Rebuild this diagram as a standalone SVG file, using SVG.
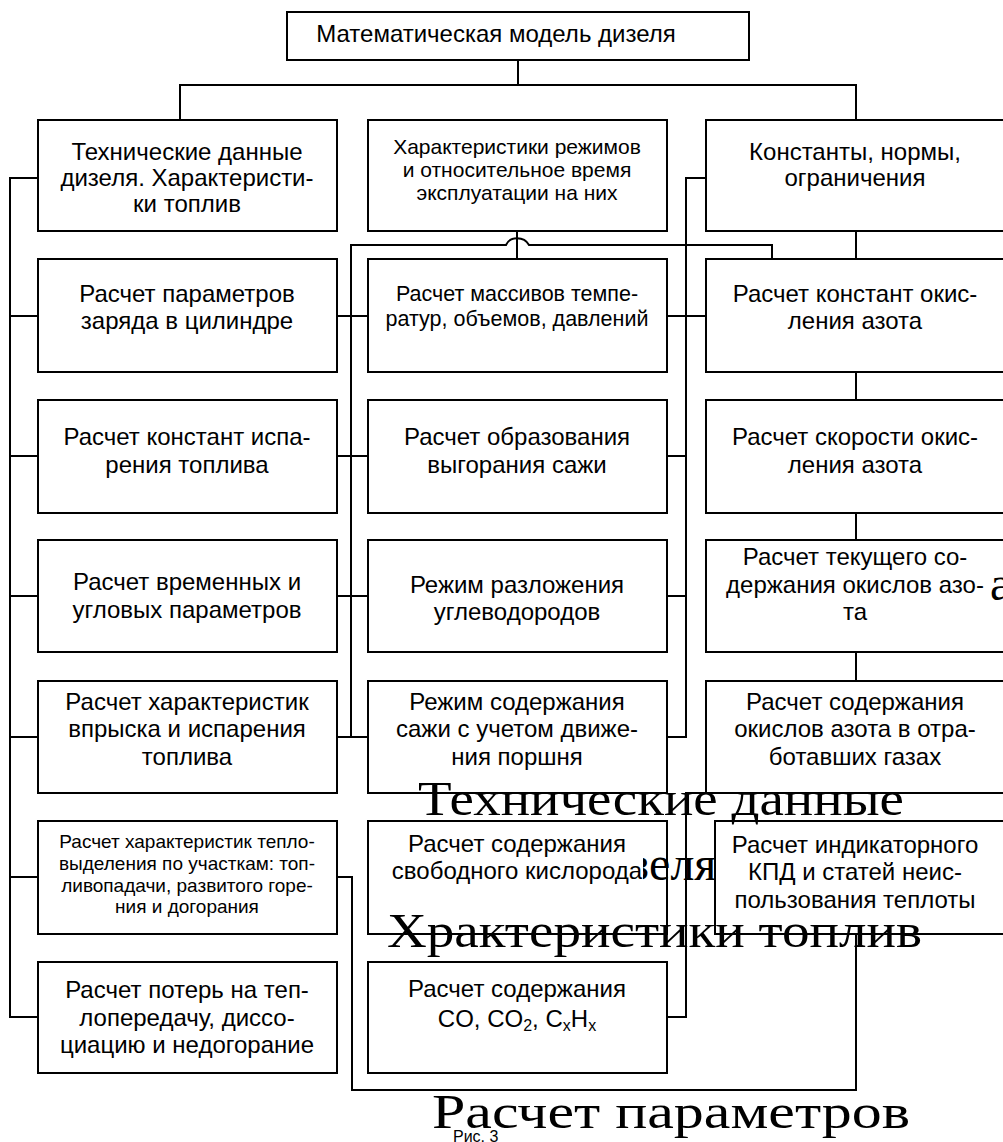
<svg xmlns="http://www.w3.org/2000/svg" width="1003" height="1142" viewBox="0 0 1003 1142">
<defs>
<style>
.box{fill:#fff;stroke:#000;stroke-width:2}
.ln{fill:none;stroke:#000;stroke-width:2}
.t{font-family:"Liberation Sans",Arial,sans-serif;font-size:24px;text-anchor:middle;fill:#000}
.s{font-size:21px}
.m{font-size:21.5px}
.xs{font-size:19px}
.big{font-family:"Liberation Serif","Times New Roman",serif;font-size:48px;fill:#000}
</style>
<clipPath id="clipZ"><rect x="643" y="830" width="72" height="70"/></clipPath>
</defs>
<rect width="1003" height="1142" fill="#fff"/>

<g id="connectors">
<path class="ln" d="M518,60 V85 M180,120 V85 H856 V120"/>
<path class="ln" d="M38,178 H10 V1017 H38 M10,316 H38 M10,456 H38 M10,596 H38 M10,737 H38 M10,877 H38"/>
<path class="ln" d="M351,737 V245 H506 C510,236 524,236 529,245 H772 V259"/>
<path class="ln" d="M337,316 H368 M337,456 H368 M337,596 H368 M337,737 H368"/>
<path class="ln" d="M517,231 V259"/>
<path class="ln" d="M706,178 H686 V737 H667 M667,316 H706 M667,456 H686 M667,596 H686"/>
<path class="ln" d="M856,231 V260 M856,372 V400 M856,513 V540 M856,652 V681"/>
<path class="ln" d="M667,1017 H686 V793 H1005"/>
<path class="ln" d="M337,877 H352 V1090 H856 V934"/>
</g>

<g id="n0"><rect class="box" x="287" y="12" width="462" height="48"/><text class="t" x="496" y="42">Математическая модель дизеля</text></g>

<g id="n1"><rect class="box" x="38" y="120" width="299" height="111"/><text class="t" x="187" y="160">Технические данные<tspan x="187" dy="26">дизеля. Характеристи-</tspan><tspan x="187" dy="26">ки топлив</tspan></text></g>
<g id="n2"><rect class="box" x="368" y="120" width="299" height="111"/><text class="t s" x="517" y="154">Характеристики режимов<tspan x="517" dy="23">и относительное время</tspan><tspan x="517" dy="23">эксплуатации на них</tspan></text></g>
<g id="n3"><rect class="box" x="706" y="120" width="299" height="111"/><text class="t" x="855" y="160">Константы, нормы,<tspan x="855" dy="26">ограничения</tspan></text></g>

<g id="n4"><rect class="box" x="38" y="259" width="299" height="113"/><text class="t" x="187" y="302">Расчет параметров<tspan x="187" dy="27">заряда в цилиндре</tspan></text></g>
<g id="n5"><rect class="box" x="368" y="259" width="299" height="113"/><text class="t m" x="517" y="301">Расчет массивов темпе-<tspan x="517" dy="25">ратур, объемов, давлений</tspan></text></g>
<g id="n6"><rect class="box" x="706" y="259" width="299" height="113"/><text class="t" x="855" y="302">Расчет констант окис-<tspan x="855" dy="27">ления азота</tspan></text></g>

<g id="n7"><rect class="box" x="38" y="400" width="299" height="113"/><text class="t" x="187" y="445">Расчет констант испа-<tspan x="187" dy="28">рения топлива</tspan></text></g>
<g id="n8"><rect class="box" x="368" y="400" width="299" height="113"/><text class="t" x="517" y="445">Расчет образования<tspan x="517" dy="28">выгорания сажи</tspan></text></g>
<g id="n9"><rect class="box" x="706" y="400" width="299" height="113"/><text class="t" x="855" y="445">Расчет скорости окис-<tspan x="855" dy="28">ления азота</tspan></text></g>

<g id="n10"><rect class="box" x="38" y="540" width="299" height="112"/><text class="t" x="187" y="590">Расчет временных и<tspan x="187" dy="28">угловых параметров</tspan></text></g>
<g id="n11"><rect class="box" x="368" y="540" width="299" height="112"/><text class="t" x="517" y="593">Режим разложения<tspan x="517" dy="27">углеводородов</tspan></text></g>
<g id="n12"><rect class="box" x="706" y="540" width="299" height="112"/><text class="t" x="855" y="565">Расчет текущего со-<tspan x="855" dy="28">держания окислов азо-</tspan><tspan x="855" dy="27">та</tspan></text></g>

<g id="n13"><rect class="box" x="38" y="681" width="299" height="112"/><text class="t" x="187" y="710">Расчет характеристик<tspan x="187" dy="27">впрыска и испарения</tspan><tspan x="187" dy="28">топлива</tspan></text></g>
<g id="n14"><rect class="box" x="368" y="681" width="299" height="112"/><text class="t" x="517" y="710">Режим содержания<tspan x="517" dy="27">сажи с учетом движе-</tspan><tspan x="517" dy="28">ния поршня</tspan></text></g>
<g id="n15"><rect class="box" x="706" y="681" width="299" height="112"/><text class="t" x="855" y="710">Расчет содержания<tspan x="855" dy="27">окислов азота в отра-</tspan><tspan x="855" dy="28">ботавших газах</tspan></text></g>

<g id="n16"><rect class="box" x="38" y="821" width="299" height="113"/><text class="t xs" x="187" y="848">Расчет характеристик тепло-<tspan x="187" dy="22">выделения по участкам: топ-</tspan><tspan x="187" dy="22">ливопадачи, развитого горе-</tspan><tspan x="187" dy="21">ния и догорания</tspan></text></g>
<g id="n17"><rect class="box" x="368" y="821" width="299" height="113"/><text class="t" x="517" y="852">Расчет содержания<tspan x="517" dy="27">свободного кислорода</tspan></text></g>
<g id="n18"><rect class="box" x="715" y="821" width="290" height="113"/><text class="t" x="855" y="853">Расчет индикаторного<tspan x="855" dy="27">КПД и статей неис-</tspan><tspan x="855" dy="28">пользования теплоты</tspan></text></g>

<g id="n19"><rect class="box" x="38" y="962" width="299" height="111"/><text class="t" x="187" y="998">Расчет потерь на теп-<tspan x="187" dy="28">лопередачу, диссо-</tspan><tspan x="187" dy="27">циацию и недогорание</tspan></text></g>
<g id="n20"><rect class="box" x="368" y="962" width="299" height="111"/><text class="t" x="517" y="997">Расчет содержания<tspan x="517" dy="30">CO, CO<tspan font-size="16" dy="4">2</tspan><tspan dy="-4">, C</tspan><tspan font-size="16" dy="4">x</tspan><tspan dy="-4">H</tspan><tspan font-size="16" dy="4">x</tspan></tspan></text></g>

<g id="stray-text">
<text class="big" x="418" y="815" textLength="486" lengthAdjust="spacingAndGlyphs">Технические данные</text>
<text class="big" x="580" y="880" clip-path="url(#clipZ)">дизеля</text>
<text class="big" x="387" y="947" textLength="535" lengthAdjust="spacingAndGlyphs">Храктеристики топлив</text>
<text class="big" x="432" y="1128" textLength="478" lengthAdjust="spacingAndGlyphs">Расчет параметров</text>
<text class="big" x="990" y="600">а</text>
</g>
<text id="caption" x="453" y="1142" style="font-family:'Liberation Sans',Arial,sans-serif;font-size:16px">Рис. 3</text>
</svg>
